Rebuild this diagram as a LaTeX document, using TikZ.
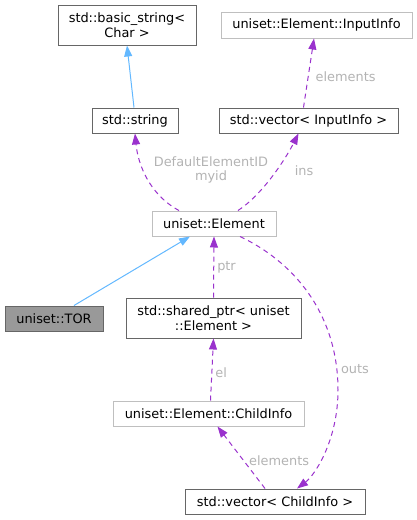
\documentclass[tikz,border=0pt]{standalone}
\usepackage{fontspec}
\setmainfont{DejaVu Sans}
\usepackage{xcolor}
\usetikzlibrary{arrows.meta}
\definecolor{inhblue}{HTML}{63B8FF}
\definecolor{usepurple}{HTML}{9A32CD}
\definecolor{edgegray}{HTML}{666666}
\definecolor{paledge}{HTML}{BFBFBF}
\definecolor{lblgray}{HTML}{B3B3B3}
\definecolor{torfill}{HTML}{999999}

\begin{document}
\begin{tikzpicture}[x=1pt,y=-1pt,>={Triangle[length=11pt,width=8pt]},
  font=\fontsize{12.9}{14.5}\selectfont]

\tikzset{
cls/.style={
    draw=edgegray,
    line width=1pt,
    fill=white,
    inner sep=0pt,
    align=center
},
ext/.style={
    cls,
    draw=paledge
},
cur/.style={
    cls,
    fill=torfill
},
inh/.style={->,line width=1pt,color=inhblue},
usage/.style={->,line width=1pt,color=usepurple,dash pattern=on 5pt off 4pt},
lbl/.style={text=lblgray,inner sep=1pt}
}

\useasboundingbox (0,0) rectangle (417,520);

\node[cls, minimum width=138pt, minimum height=40pt] (bstr) at (127,25) {std::basic\_string<\\Char >};
\node[ext, minimum width=191pt, minimum height=26pt] (inpinfo) at (316.5,25) {uniset::Element::InputInfo};
\node[cls, minimum width=86pt, minimum height=25pt] (str) at (135,120.5) {std::string};
\node[cls, minimum width=179pt, minimum height=25pt] (vecin) at (308.5,120.5) {std::vector< InputInfo >};
\node[ext, minimum width=124pt, minimum height=25pt] (elem) at (214,223.5) {uniset::Element};
\node[cur, minimum width=98pt, minimum height=25pt] (tor) at (54,318.5) {uniset::TOR};
\node[cls, minimum width=175pt, minimum height=40pt] (sptr) at (213.5,318) {std::shared\_ptr< uniset\\::Element >};
\node[ext, minimum width=191pt, minimum height=25pt] (chinfo) at (208.5,413.5) {uniset::Element::ChildInfo};
\node[cls, minimum width=180pt, minimum height=25pt] (vecch) at (275,501.5) {std::vector< ChildInfo >};

% inheritance
\draw[inh] (str.north) ++(-1,0) -- ([xshift=0pt]bstr.south);
\draw[inh] ([xshift=20pt]tor.north) -- ([xshift=-24pt]elem.south);

% usage relations
\draw[usage] ([xshift=-5pt]vecin.north) -- node[lbl,right=6pt,pos=0.45]{elements} ([xshift=-2.5pt]inpinfo.south);
\draw[usage] ([xshift=-35pt]elem.north) .. controls (150,195) and (138,165) .. (str.south);
\node[lbl, align=center] (lblmyid) at (211,170) {DefaultElementID\\myid};
\draw[usage] ([xshift=24pt]elem.north) .. controls (262,195) and (285,160) .. ([xshift=-10pt]vecin.south);
\node[lbl] (lblins) at (304,171) {ins};
\draw[usage] (sptr.north) -- node[lbl,right=2pt,pos=0.5]{ptr} (elem.south);
\draw[usage] ([xshift=2pt]chinfo.north) -- node[lbl,right=2pt,pos=0.45]{el} (sptr.south);
\draw[usage] ([xshift=26pt]elem.south) .. controls (300,265) and (338,320) .. (338,390)
  .. controls (338,440) and (315,475) .. ([xshift=22pt]vecch.north);
\node[lbl] (lblouts) at (355,369) {outs};
\draw[usage] ([xshift=-10pt]vecch.north) -- node[lbl,right=4pt,pos=0.45]{elements} ([xshift=9pt]chinfo.south);

\end{tikzpicture}
\end{document}
